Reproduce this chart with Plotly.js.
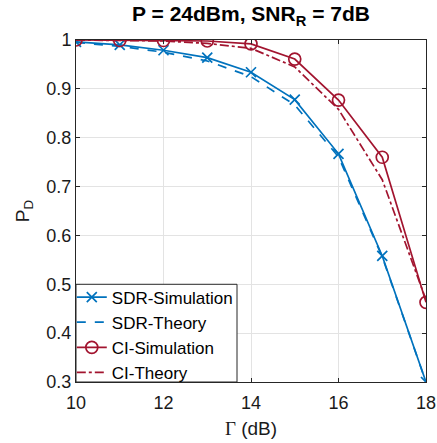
<!DOCTYPE html>
<html>
<head>
<meta charset="utf-8">
<script src="https://cdn.plot.ly/plotly-3.0.1.min.js"></script>
<style>html,body{margin:0;padding:0;background:#fff;}#chart{width:437px;height:443px;}</style>
</head>
<body>
<div id="chart"></div>
<script>
const gammaDb = [10, 11, 12, 13, 14, 15, 16, 17, 18];
const sdrSimulation = [0.996, 0.990, 0.979, 0.964, 0.934, 0.878, 0.767, 0.558, 0.300];
const sdrTheory = [0.995, 0.987, 0.975, 0.957, 0.925, 0.867, 0.761, 0.556, 0.300];
const ciSimulation = [1.000, 0.999, 0.999, 0.998, 0.992, 0.961, 0.877, 0.760, 0.463];
const ciTheory = [1.000, 0.999, 0.998, 0.993, 0.983, 0.945, 0.858, 0.714, 0.468];
const xTicks = [10, 12, 14, 16, 18];
const yTicks = [0.3, 0.4, 0.5, 0.6, 0.7, 0.8, 0.9, 1];

const blue = '#0072BD';
const red = '#A2142F';
const font = 'Liberation Sans, Arial, sans-serif';

const traces = [
  {x: gammaDb, y: sdrSimulation, name: 'SDR-Simulation', mode: 'lines+markers',
   line: {color: blue, width: 1.7}, marker: {symbol: 'x-thin', size: 10, line: {color: blue, width: 1.7}}},
  {x: gammaDb, y: sdrTheory, name: 'SDR-Theory', mode: 'lines',
   line: {color: blue, width: 1.7, dash: 'dash'}},
  {x: gammaDb, y: ciSimulation, name: 'CI-Simulation', mode: 'lines+markers',
   line: {color: red, width: 1.7}, marker: {symbol: 'circle-open', size: 12, color: red, line: {color: red, width: 1.7}}},
  {x: gammaDb, y: ciTheory, name: 'CI-Theory', mode: 'lines',
   line: {color: red, width: 1.7, dash: 'dashdot'}}
];

const axisCommon = {
  showline: true, mirror: 'ticks', linecolor: '#262626', linewidth: 1,
  ticks: 'inside', ticklen: 4, tickcolor: '#262626',
  showgrid: true, gridcolor: '#e3e3e3', gridwidth: 1, zeroline: false,
  tickfont: {family: font, size: 18, color: '#1a1a1a'}
};

const layout = {
  width: 437, height: 443,
  margin: {l: 76, r: 11, t: 40, b: 61},
  paper_bgcolor: '#fff', plot_bgcolor: '#fff',
  title: {text: '<b>P = 24dBm, SNR<sub>R</sub> = 7dB</b>', x: 0.5, xref: 'paper', xanchor: 'center', y: 0.985, yanchor: 'top',
          font: {family: font, size: 21, color: '#000'}},
  xaxis: Object.assign({}, axisCommon, {
    range: [10, 18], tickvals: xTicks, ticktext: xTicks.map(String), ticklabelstandoff: 4,
    title: {text: '<span style="font-family:Liberation Serif,Times New Roman,serif">Γ</span> (dB)', standoff: 10,
            font: {family: font, size: 19, color: '#1a1a1a'}}
  }),
  yaxis: Object.assign({}, axisCommon, {
    range: [0.3, 1], tickvals: yTicks, ticktext: yTicks.map(v => String(v)),
    title: {text: 'P<sub>D</sub>', standoff: 11,
            font: {family: font, size: 19, color: '#1a1a1a'}}
  }),
  shapes: [
    {type: 'rect', xref: 'paper', yref: 'paper', x0: 0, x1: 0.46, y0: 0, y1: 0.2857,
     fillcolor: '#fff', line: {color: '#262626', width: 1}, layer: 'above'}
  ],
  showlegend: true,
  legend: {x: -0.012, y: -0.025, xanchor: 'left', yanchor: 'bottom', bgcolor: 'rgba(0,0,0,0)',
           borderwidth: 0, tracegroupgap: 0, itemwidth: 30,
           font: {family: font, size: 17, color: '#000'}}
};

Plotly.newPlot('chart', traces, layout, {displayModeBar: false, staticPlot: true});
</script>
</body>
</html>
